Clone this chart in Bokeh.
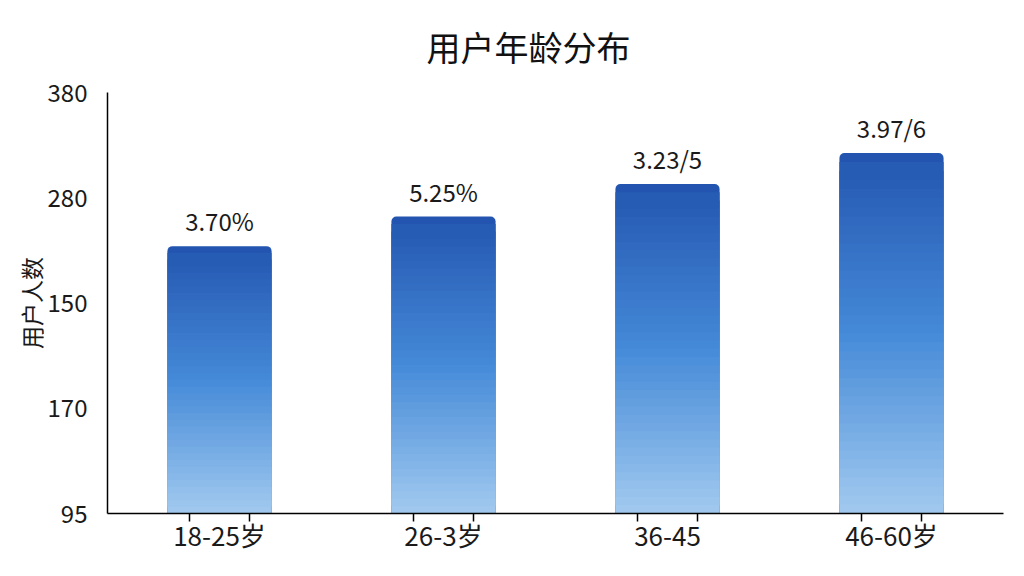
import numpy as np
from bokeh.plotting import figure
from bokeh.models import FixedTicker, Range1d, ColumnDataSource, LinearAxis
from bokeh.core.properties import value
from bokeh.embed import file_html
from bokeh.resources import INLINE

# ---- data ----
categories = ["18-25岁", "26-3岁", "36-45", "46-60岁"]
user_counts = [276, 296, 318, 339]
bar_labels = ["3.70%", "5.25%", "3.23/5", "3.97/6"]
y_tick_labels = ["95", "170", "150", "280", "380"]
y_min, y_max = 95, 380

FONT = "Noto Sans CJK SC"
TOP = np.array([0x23, 0x55, 0xB0])
MID = np.array([0x45, 0x8A, 0xD8])
BOT = np.array([0xA2, 0xCA, 0xEF])

def grad(t):
    # t: 0 bottom -> 1 top
    if t < 0.5:
        c = BOT + (MID - BOT) * (t / 0.5)
    else:
        c = MID + (TOP - MID) * ((t - 0.5) / 0.5)
    return "#%02x%02x%02x" % tuple(int(round(v)) for v in c)

p = figure(width=1008, height=560, output_backend="svg", toolbar_location=None,
           x_range=Range1d(0, len(categories)), y_range=Range1d(y_min, y_max),
           x_axis_location=None,
           min_border_left=107, min_border_right=5, min_border_top=92, min_border_bottom=47)
p.outline_line_color = None
p.grid.grid_line_color = None
p.background_fill_color = "white"

centers = [i + 0.5 for i in range(len(categories))]
bw = 0.465

# back bar with rounded top (top colour)
p.vbar(x=centers, top=user_counts, bottom=y_min, width=bw,
       fill_color=grad(1.0), line_color=None, border_radius=(5, 5, 0, 0))

# gradient slices (overlapping to avoid seams)
N = 40
xs, bots, tops, cols = [], [], [], []
for c, v in zip(centers, user_counts):
    h = (v - y_min) / N
    for k in range(N - 2):
        xs.append(c)
        bots.append(y_min + k * h)
        tops.append(y_min + (k + 2) * h)
        cols.append(grad((k + 0.5) / N))
src = ColumnDataSource(dict(x=xs, bottom=bots, top=tops, color=cols))
p.vbar(x="x", bottom="bottom", top="top", width=bw, fill_color="color",
       line_color=None, source=src)

# value labels
lsrc = ColumnDataSource(dict(x=centers, y=user_counts, t=bar_labels))
p.text(x="x", y="y", text="t", source=lsrc, text_align="center", text_baseline="bottom",
       y_offset=-8, text_font=value(FONT), text_font_size="24px", text_color="#1a1a1a")

# y axis
yticks = list(np.linspace(y_min, y_max, len(y_tick_labels)))
p.yaxis.ticker = FixedTicker(ticks=yticks)
p.yaxis.major_label_overrides = {t: l for t, l in zip(yticks, y_tick_labels)}
p.yaxis.major_tick_line_color = None
p.yaxis.minor_tick_line_color = None
p.yaxis.major_tick_out = 0
p.yaxis.major_label_standoff = 20
p.yaxis.axis_label = "用户人数"
p.yaxis.axis_label_text_font = FONT
p.yaxis.axis_label_text_font_size = "23px"
p.yaxis.axis_label_text_font_style = "normal"
p.yaxis.axis_label_text_color = "#1a1a1a"
p.yaxis.axis_label_standoff = -3
p.yaxis.axis_line_color = "black"
p.yaxis.axis_line_width = 1.5
p.yaxis.major_label_text_font = FONT
p.yaxis.major_label_text_color = "#1a1a1a"
p.yaxis.major_label_text_font_size = "24px"

# x axis: line + paired ticks
tick_pos = [c + d for c in centers for d in (-0.133, 0.133)]
xa = LinearAxis(ticker=FixedTicker(ticks=tick_pos),
                major_label_overrides={t: "" for t in tick_pos},
                major_tick_in=0, major_tick_out=8,
                major_tick_line_color="black", major_tick_line_width=1.5,
                minor_tick_line_color=None,
                axis_line_color="black", axis_line_width=1.5,
                major_label_text_font_size="1px", major_label_standoff=0)
p.add_layout(xa, "below")

# x axis: category labels
xl = LinearAxis(ticker=FixedTicker(ticks=centers),
                major_label_overrides={c: l for c, l in zip(centers, categories)},
                major_tick_line_color=None, minor_tick_line_color=None,
                major_tick_in=0, major_tick_out=0, axis_line_color=None,
                major_label_text_font=FONT, major_label_text_color="#1a1a1a",
                major_label_text_font_size="26px", major_label_standoff=-6)
p.add_layout(xl, "below")

p.title.text = "用户年龄分布"
p.title.align = "left"
p.title.offset = 319
p.title.text_font = FONT
p.title.text_font_size = "34px"
p.title.text_font_style = "normal"
p.title.text_color = "#111111"
p.title.vertical_align = "top"
p.title.standoff = 40

open("out.html", "w").write(file_html(p, INLINE))
